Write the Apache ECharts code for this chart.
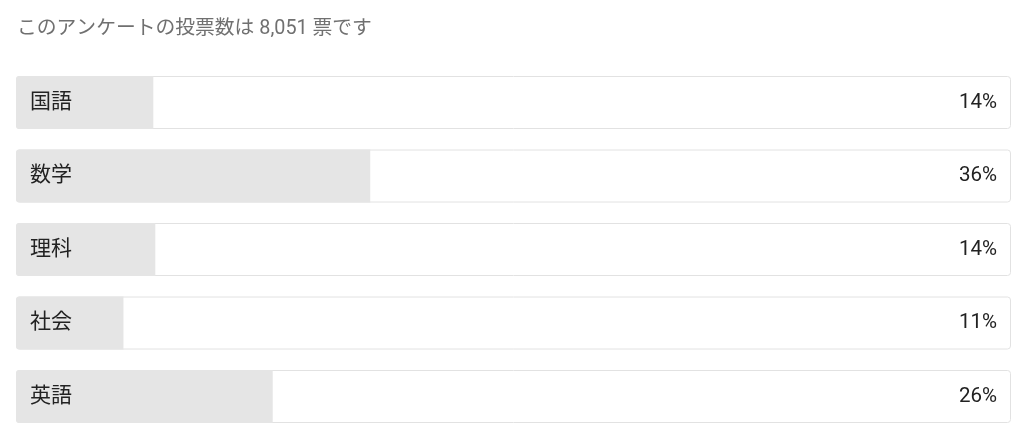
<!DOCTYPE html>
<html>
<head>
<meta charset="utf-8">
<script src="https://cdn.jsdelivr.net/npm/echarts@6/dist/echarts.min.js"></script>
<style>
html,body{margin:0;padding:0;background:#fff;}
#c{width:1024px;height:429px;}
</style>
</head>
<body>
<div id="c"></div>
<script>
var categories = ['国語', '数学', '理科', '社会', '英語'];
var shares = [13.8, 35.6, 14.0, 10.8, 25.8];
var totalVotes = '8,051';
var fullScale = [100, 100, 100, 100, 100];

var FONT = 'Roboto, "Noto Sans CJK JP", sans-serif';
var chart = echarts.init(document.getElementById('c'), null, {renderer: 'canvas'});
chart.setOption({
  animation: false,
  title: {
    text: 'このアンケートの投票数は ' + totalVotes + ' 票です',
    left: 17, top: 19, padding: 0,
    textStyle: {fontFamily: FONT, fontSize: 19.8, fontWeight: 'normal', color: '#707070'}
  },
  grid: {left: 16, right: 13, top: 102.5, height: 294},
  xAxis: {type: 'value', min: 0, max: 100, show: false},
  yAxis: {type: 'category', data: categories, inverse: true, boundaryGap: false, show: false},
  series: [
    {
      type: 'bar', data: fullScale, barWidth: 53, barGap: '-100%', z: 1, silent: true,
      itemStyle: {color: '#ffffff', borderColor: '#e2e2e2', borderWidth: 1, borderRadius: 3},
      label: {
        show: true, position: 'insideRight', distance: 14,
        fontFamily: FONT, fontSize: 20.5, color: '#222',
        formatter: function (p) { return Math.round(shares[p.dataIndex]) + '%'; }
      }
    },
    {
      type: 'bar', data: shares, barWidth: 53, barGap: '-100%', z: 2, silent: true,
      itemStyle: {color: '#e5e5e5', borderRadius: [3, 0, 0, 3]},
      label: {
        show: true, position: 'insideLeft', distance: 14,
        fontFamily: FONT, fontSize: 21, color: '#222',
        formatter: function (p) { return categories[p.dataIndex]; }
      }
    }
  ]
});
</script>
</body>
</html>
